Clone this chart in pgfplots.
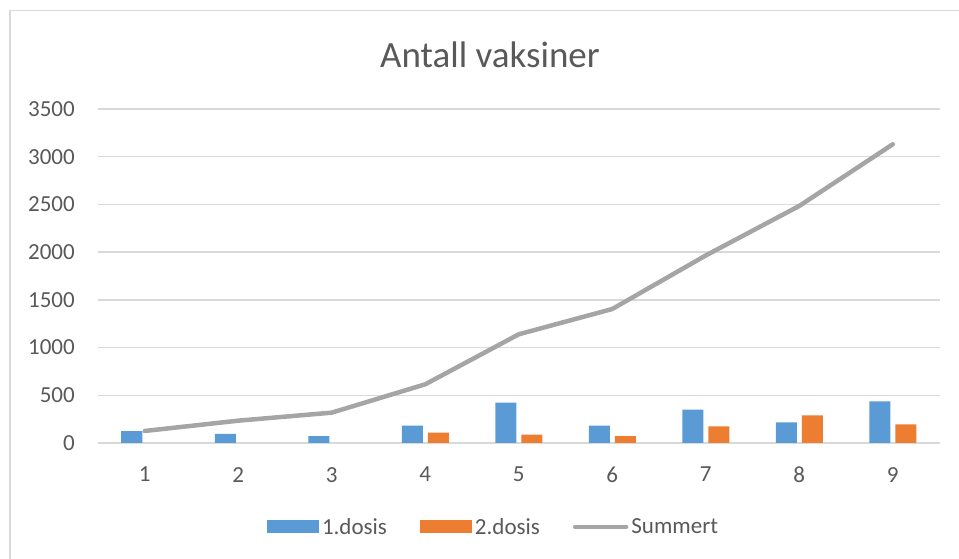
\documentclass[border=0pt]{standalone}
\usepackage{fontspec}
\setmainfont{Carlito}
\usepackage{pgfplots}
\pgfplotsset{compat=1.18}
\definecolor{dosisBlue}{HTML}{5B9BD5}
\definecolor{dosisOrange}{HTML}{ED7D31}
\definecolor{sumGray}{HTML}{A5A5A5}
\definecolor{txtGray}{HTML}{595959}
\definecolor{gridGray}{HTML}{D9D9D9}

\begin{document}
\begin{tikzpicture}
\useasboundingbox (0pt,0pt) rectangle (959pt,559pt);
\draw[gridGray, line width=1.2pt] (10pt,0pt) -- (10pt,548.5pt) -- (959pt,548.5pt);
\begin{axis}[
  at={(98pt,116pt)}, anchor=south west,
  scale only axis,
  width=841.5pt, height=334pt,
  xmin=0.5, xmax=9.5,
  ymin=0, ymax=3500,
  xtick={1,...,9},
  ytick distance=500,
  axis line style={draw=none},
  major tick length=0pt,
  ymajorgrids,
  major grid style={draw=gridGray, line width=1.3pt},
  /pgf/number format/assume math mode=true,
  /pgf/number format/1000 sep={},
  tick label style={font=\fontsize{23}{27}\selectfont, text=txtGray},
  y tick label style={inner sep=0pt, xshift=-23pt, anchor=east},
  x tick label style={inner sep=0pt, yshift=-24pt, anchor=north},
  legend columns=3,
  legend style={
    at={(axis description cs:0.4706,-0.2515)}, anchor=center,
    draw=none, fill=none,
    font=\fontsize{23}{27}\selectfont, text=txtGray,
    nodes={inner xsep=3pt},
    /tikz/every odd column/.append style={column sep=0pt},
    /tikz/every even column/.append style={column sep=30pt},
  },
  legend cell align=left,
]
\addplot[ybar, bar width=21pt, bar shift=-13pt, fill=dosisBlue, draw=none,
  legend image code/.code={\fill[dosisBlue] (0pt,-6.5pt) rectangle (52pt,6.5pt);}]
  coordinates {(1,125) (2,95) (3,73) (4,182) (5,423) (6,182) (7,350) (8,217) (9,437)};
\addlegendentry{1.dosis}
\addplot[ybar, bar width=21pt, bar shift=13pt, fill=dosisOrange, draw=none,
  legend image code/.code={\fill[dosisOrange] (0pt,-6.5pt) rectangle (52pt,6.5pt);}]
  coordinates {(4,109) (5,88) (6,73) (7,175) (8,290) (9,196)};
\addlegendentry{2.dosis}
\addplot[sumGray, line width=4.5pt, line cap=round, line join=round,
  legend image code/.code={\draw[sumGray, line width=4.5pt, line cap=round] (2pt,0pt) -- (53pt,0pt);}]
  coordinates {(1,126) (2,234) (3,318) (4,615) (5,1139) (6,1404) (7,1965) (8,2484) (9,3130)};
\addlegendentry{Summert}
\end{axis}
\node[text=txtGray, font=\fontsize{37}{42}\selectfont] at (490pt,504pt) {Antall vaksiner};
\end{tikzpicture}
\end{document}
